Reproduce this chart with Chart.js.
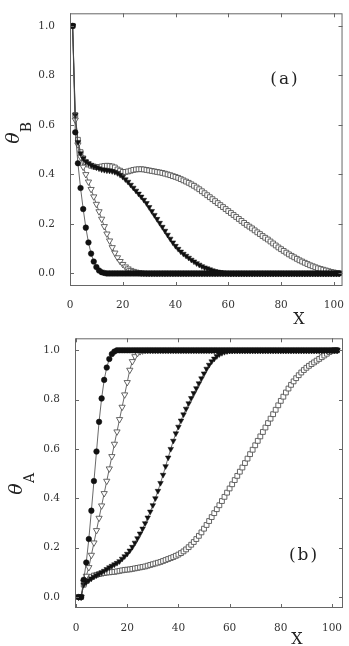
<!DOCTYPE html>
<html>
<head>
<meta charset="utf-8">
<script src="https://cdn.jsdelivr.net/npm/chart.js@4.4.0/dist/chart.umd.min.js"></script>
<style>
  body { margin: 0; background: #fff; }
  canvas { position: absolute; left: 0; }
  #chart-a { top: 0; }
  #chart-b { top: 325px; }
</style>
</head>
<body>
<canvas id="chart-a" width="349" height="325"></canvas>
<canvas id="chart-b" width="349" height="321"></canvas>
<script>
// values, one per lattice site x = 1..102
const X_TICKS = [0, 20, 40, 60, 80, 100];
const Y_TICKS = [0, 0.2, 0.4, 0.6, 0.8, 1.0];

// (a) theta_B
const A_CIRCLES = [
  1.0, 0.57, 0.445, 0.345, 0.26, 0.185, 0.125, 0.08, 0.048, 0.026,
  0.012, 0.005, 0.002, 0, 0, 0, 0, 0, 0, 0,
  0, 0, 0, 0, 0, 0, 0, 0, 0, 0,
  0, 0, 0, 0, 0, 0, 0, 0, 0, 0,
  0, 0, 0, 0, 0, 0, 0, 0, 0, 0,
  0, 0, 0, 0, 0, 0, 0, 0, 0, 0,
  0, 0, 0, 0, 0, 0, 0, 0, 0, 0,
  0, 0, 0, 0, 0, 0, 0, 0, 0, 0,
  0, 0, 0, 0, 0, 0, 0, 0, 0, 0,
  0, 0, 0, 0, 0, 0, 0, 0, 0, 0,
  0, 0
];
const A_OPEN_TRI = [
  1.0, 0.62, 0.52, 0.47, 0.43, 0.40, 0.37, 0.34, 0.31, 0.28,
  0.25, 0.22, 0.19, 0.16, 0.132, 0.105, 0.083, 0.064, 0.049, 0.037,
  0.027, 0.019, 0.013, 0.009, 0.006, 0.004, 0.002, 0.001, 0, 0,
  0, 0, 0, 0, 0, 0, 0, 0, 0, 0,
  0, 0, 0, 0, 0, 0, 0, 0, 0, 0,
  0, 0, 0, 0, 0, 0, 0, 0, 0, 0,
  0, 0, 0, 0, 0, 0, 0, 0, 0, 0,
  0, 0, 0, 0, 0, 0, 0, 0, 0, 0,
  0, 0, 0, 0, 0, 0, 0, 0, 0, 0,
  0, 0, 0, 0, 0, 0, 0, 0, 0, 0,
  0, 0
];
const A_FILLED_TRI = [
  1.0, 0.64, 0.53, 0.485, 0.465, 0.452, 0.445, 0.438, 0.432, 0.428,
  0.424, 0.42, 0.418, 0.416, 0.415, 0.413, 0.41, 0.405, 0.398, 0.39,
  0.38, 0.37, 0.358, 0.346, 0.334, 0.322, 0.31, 0.297, 0.284, 0.268,
  0.252, 0.236, 0.22, 0.204, 0.188, 0.172, 0.156, 0.14, 0.125, 0.111,
  0.099, 0.088, 0.079, 0.071, 0.063, 0.055, 0.048, 0.041, 0.035, 0.029,
  0.024, 0.02, 0.016, 0.012, 0.009, 0.007, 0.005, 0.003, 0.002, 0.001,
  0, 0, 0, 0, 0, 0, 0, 0, 0, 0,
  0, 0, 0, 0, 0, 0, 0, 0, 0, 0,
  0, 0, 0, 0, 0, 0, 0, 0, 0, 0,
  0, 0, 0, 0, 0, 0, 0, 0, 0, 0,
  0, 0
];
const A_SQUARES = [
  1.0, 0.64, 0.54, 0.49, 0.465, 0.45, 0.44, 0.435, 0.432, 0.43,
  0.43, 0.432, 0.434, 0.435, 0.434, 0.432, 0.428, 0.42, 0.415, 0.41,
  0.41, 0.412, 0.415, 0.418, 0.42, 0.421, 0.421, 0.42, 0.418, 0.416,
  0.414, 0.412, 0.41, 0.408, 0.406, 0.403, 0.4, 0.397, 0.393, 0.39,
  0.386, 0.381, 0.376, 0.371, 0.366, 0.36, 0.354, 0.347, 0.34, 0.332,
  0.324, 0.316, 0.308, 0.3, 0.292, 0.284, 0.276, 0.268, 0.26, 0.252,
  0.244, 0.236, 0.228, 0.22, 0.212, 0.204, 0.196, 0.189, 0.182, 0.174,
  0.166, 0.159, 0.151, 0.144, 0.137, 0.129, 0.121, 0.113, 0.105, 0.098,
  0.091, 0.084, 0.077, 0.071, 0.065, 0.059, 0.053, 0.048, 0.043, 0.038,
  0.033, 0.029, 0.025, 0.021, 0.018, 0.015, 0.012, 0.009, 0.006, 0.004,
  0.002, 0.001
];

// (b) theta_A
const B_CIRCLES = [
  0, 0, 0.07, 0.14, 0.235, 0.35, 0.47, 0.59, 0.71, 0.805,
  0.88, 0.93, 0.965, 0.985, 0.995, 1, 1, 1, 1, 1,
  1, 1, 1, 1, 1, 1, 1, 1, 1, 1,
  1, 1, 1, 1, 1, 1, 1, 1, 1, 1,
  1, 1, 1, 1, 1, 1, 1, 1, 1, 1,
  1, 1, 1, 1, 1, 1, 1, 1, 1, 1,
  1, 1, 1, 1, 1, 1, 1, 1, 1, 1,
  1, 1, 1, 1, 1, 1, 1, 1, 1, 1,
  1, 1, 1, 1, 1, 1, 1, 1, 1, 1,
  1, 1, 1, 1, 1, 1, 1, 1, 1, 1,
  1, 1
];
const B_OPEN_TRI = [
  0, 0, 0.06, 0.085, 0.12, 0.17, 0.22, 0.27, 0.32, 0.37,
  0.42, 0.47, 0.52, 0.57, 0.62, 0.67, 0.72, 0.77, 0.82, 0.87,
  0.92, 0.955, 0.975, 0.988, 0.995, 0.998, 1, 1, 1, 1,
  1, 1, 1, 1, 1, 1, 1, 1, 1, 1,
  1, 1, 1, 1, 1, 1, 1, 1, 1, 1,
  1, 1, 1, 1, 1, 1, 1, 1, 1, 1,
  1, 1, 1, 1, 1, 1, 1, 1, 1, 1,
  1, 1, 1, 1, 1, 1, 1, 1, 1, 1,
  1, 1, 1, 1, 1, 1, 1, 1, 1, 1,
  1, 1, 1, 1, 1, 1, 1, 1, 1, 1,
  1, 1
];
const B_FILLED_TRI = [
  0, 0, 0.05, 0.06, 0.068, 0.075, 0.082, 0.088, 0.094, 0.1,
  0.106, 0.113, 0.12, 0.126, 0.132, 0.138, 0.145, 0.155, 0.165, 0.175,
  0.188, 0.203, 0.22, 0.238, 0.257, 0.277, 0.299, 0.322, 0.346, 0.372,
  0.4, 0.43, 0.462, 0.495, 0.53, 0.565, 0.6, 0.633, 0.663, 0.69,
  0.715, 0.74, 0.763, 0.785, 0.806, 0.826, 0.846, 0.866, 0.886, 0.906,
  0.925, 0.941, 0.955, 0.966, 0.976, 0.984, 0.989, 0.993, 0.996, 0.998,
  0.999, 1, 1, 1, 1, 1, 1, 1, 1, 1,
  1, 1, 1, 1, 1, 1, 1, 1, 1, 1,
  1, 1, 1, 1, 1, 1, 1, 1, 1, 1,
  1, 1, 1, 1, 1, 1, 1, 1, 1, 1,
  1, 1
];
const B_SQUARES = [
  0, 0, 0.05, 0.065, 0.075, 0.082, 0.087, 0.09, 0.093, 0.095,
  0.097, 0.099, 0.1, 0.101, 0.102, 0.104, 0.106, 0.108, 0.11, 0.111,
  0.112, 0.114, 0.116, 0.118, 0.12, 0.122, 0.124, 0.127, 0.13, 0.133,
  0.136, 0.139, 0.142, 0.146, 0.15, 0.154, 0.158, 0.162, 0.167, 0.172,
  0.178, 0.185, 0.193, 0.202, 0.212, 0.223, 0.235, 0.248, 0.262, 0.277,
  0.292, 0.308, 0.324, 0.34, 0.356, 0.372, 0.389, 0.406, 0.423, 0.44,
  0.457, 0.474, 0.491, 0.508, 0.525, 0.543, 0.561, 0.579, 0.597, 0.615,
  0.633, 0.651, 0.669, 0.687, 0.705, 0.723, 0.741, 0.759, 0.777, 0.795,
  0.812, 0.829, 0.845, 0.86, 0.874, 0.887, 0.899, 0.91, 0.92, 0.929,
  0.937, 0.944, 0.951, 0.958, 0.965, 0.972, 0.979, 0.986, 0.993, 0.998,
  1, 1
];

const SERIF = '"DejaVu Serif", "Liberation Serif", serif';

function toPoints(values) {
  // site index i -> x = i + 1
  return values.map((v, i) => ({ x: i + 1, y: v }));
}

function seriesSets(circles, openTri, filledTri, squares) {
  const line = { showLine: true, tension: 0, borderWidth: 0.8, borderColor: '#444' };
  return [
    Object.assign({}, line, {
      data: toPoints(circles), pointStyle: 'circle', pointRadius: 2.8,
      pointBackgroundColor: '#111', pointBorderColor: '#111', pointBorderWidth: 0.5
    }),
    Object.assign({}, line, {
      data: toPoints(filledTri), pointStyle: 'triangle', pointRotation: 180, pointRadius: 3.2,
      pointBackgroundColor: '#111', pointBorderColor: '#111', pointBorderWidth: 0.5
    }),
    Object.assign({}, line, {
      data: toPoints(openTri), pointStyle: 'triangle', pointRotation: 180, pointRadius: 3.6,
      pointBackgroundColor: '#fff', pointBorderColor: '#555', pointBorderWidth: 0.9
    }),
    Object.assign({}, line, {
      data: toPoints(squares), pointStyle: 'rect', pointRadius: 3.4,
      pointBackgroundColor: '#fff', pointBorderColor: '#555', pointBorderWidth: 0.9
    })
  ];
}

// frame with inward ticks on all four sides, plus the free texts
const framePlugin = {
  id: 'frame',
  afterDatasetsDraw(chart, args, o) {
    const { ctx, chartArea: a, scales: { x, y } } = chart;
    ctx.save();
    ctx.strokeStyle = '#666';
    ctx.lineWidth = 1;
    ctx.strokeRect(a.left + 0.5, a.top + 0.5, a.right - a.left - 1, a.bottom - a.top - 1);
    ctx.beginPath();
    X_TICKS.forEach(v => {
      const px = Math.round(x.getPixelForValue(v)) + 0.5;
      ctx.moveTo(px, a.bottom); ctx.lineTo(px, a.bottom - 4);
      ctx.moveTo(px, a.top); ctx.lineTo(px, a.top + 4);
    });
    Y_TICKS.forEach(v => {
      const py = Math.round(y.getPixelForValue(v)) + 0.5;
      ctx.moveTo(a.left, py); ctx.lineTo(a.left + 4, py);
      ctx.moveTo(a.right, py); ctx.lineTo(a.right - 4, py);
    });
    ctx.stroke();

    ctx.fillStyle = '#222';
    ctx.textAlign = 'center';
    ctx.textBaseline = 'middle';
    // panel tag
    ctx.font = '17px ' + SERIF;
    ctx.letterSpacing = '2px';
    ctx.fillText(o.tag, o.tagX, o.tagY);
    ctx.letterSpacing = '0px';
    // x title
    ctx.font = '16px ' + SERIF;
    ctx.fillText('X', o.xTitleX, o.xTitleY);
    // rotated theta with subscript
    ctx.translate(o.symX, o.symY);
    ctx.rotate(-Math.PI / 2);
    ctx.font = 'italic 19px ' + SERIF;
    ctx.fillText('\u03B8', 0, 0);
    ctx.font = '14px ' + SERIF;
    ctx.fillText(o.sub, 11, 13);
    ctx.restore();
  }
};

function makeChart(id, sets, box, texts) {
  const ctx = document.getElementById(id);
  return new Chart(ctx, {
    type: 'scatter',
    data: { datasets: sets },
    plugins: [framePlugin],
    options: {
      responsive: false,
      animation: false,
      devicePixelRatio: 1,
      layout: { padding: { left: 0, right: box.right, top: box.top, bottom: 0 } },
      plugins: { legend: { display: false }, tooltip: { enabled: false }, frame: texts },
      scales: {
        x: {
          type: 'linear', min: box.xMin, max: box.xMax,
          afterBuildTicks: s => { s.ticks = X_TICKS.map(v => ({ value: v })); },
          afterFit: s => { s.height = box.bottom; },
          grid: { display: false },
          border: { display: false },
          ticks: { padding: box.xPad, color: '#333', font: { family: SERIF, size: 10.5 } }
        },
        y: {
          type: 'linear', min: box.yMin, max: box.yMax,
          afterBuildTicks: s => { s.ticks = Y_TICKS.map(v => ({ value: v })); },
          afterFit: s => { s.width = box.left; },
          grid: { display: false },
          border: { display: false },
          ticks: {
            padding: 7, color: '#333', font: { family: SERIF, size: 10.5 },
            callback: v => v.toFixed(1)
          }
        }
      }
    }
  });
}

makeChart('chart-a',
  seriesSets(A_CIRCLES, A_OPEN_TRI, A_FILLED_TRI, A_SQUARES),
  { left: 70, right: 3, top: 4, bottom: 39, xMin: 0, xMax: 103.3, yMin: -0.0508, yMax: 1.0508, xPad: 5 },
  { tag: '(a)', tagX: 285, tagY: 80, xTitleX: 299, xTitleY: 320, symX: 14, symY: 138, sub: 'B' });

makeChart('chart-b',
  seriesSets(B_CIRCLES, B_OPEN_TRI, B_FILLED_TRI, B_SQUARES),
  { left: 75, right: 6, top: 13, bottom: 38, xMin: -0.4, xMax: 104.3, yMin: -0.0445, yMax: 1.0486, xPad: 6 },
  { tag: '(b)', tagX: 304, tagY: 231, xTitleX: 297, xTitleY: 315, symX: 17, symY: 164, sub: 'A' });
</script>
</body>
</html>
